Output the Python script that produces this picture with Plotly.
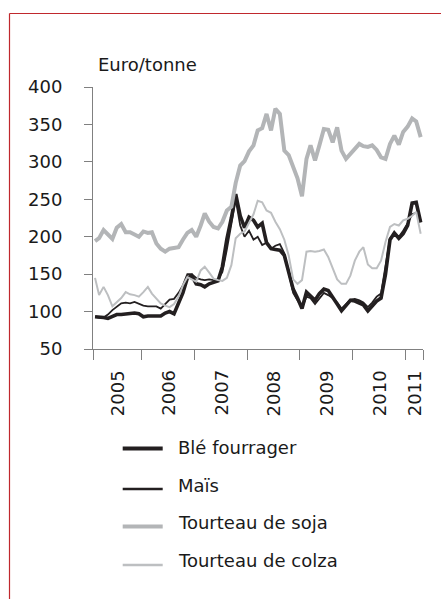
import pandas as pd
import plotly.graph_objects as go

# ---- data (monthly, Feb 2005 - Apr 2011), Euro/tonne ----
months = pd.date_range("2005-02-01", periods=75, freq="MS") + pd.Timedelta(days=14)

ble_fourrager = [93, 93, 92, 91, 94, 96, 96, 97, 98, 98, 97,
                 93, 94, 94, 93, 94, 98, 100, 97, 110, 125, 145, 148,
                 137, 136, 133, 137, 139, 141, 160, 197, 225, 257, 228, 212,
                 226, 222, 213, 218, 192, 184, 183, 182, 175, 152, 130, 118,
                 104, 126, 121, 115, 124, 130, 128, 118, 110, 101, 108, 115,
                 114, 112, 109, 101, 108, 114, 118, 150, 196, 205, 198, 204,
                 215, 245, 246, 219]

mais = [93, 92, 92, 96, 102, 106, 111, 112, 111, 113, 110,
        108, 107, 107, 107, 104, 110, 116, 117, 125, 135, 150, 150,
        145, 143, 142, 143, 142, 143, 153, 183, 215, 250, 215, 200,
        208, 196, 200, 189, 192, 184, 188, 190, 178, 150, 125, 115,
        105, 120, 118, 110, 118, 125, 122, 118, 112, 104, 110, 116,
        117, 115, 112, 106, 112, 120, 124, 160, 198, 202, 200, 208,
        218, 230, 232, 222]

tourteau_soja = [194, 198, 209, 203, 197, 212, 217, 206, 206, 203, 200,
                 207, 205, 206, 191, 184, 180, 184, 185, 186, 196, 205, 209,
                 200, 215, 231, 220, 213, 211, 220, 235, 240, 272, 295, 301,
                 314, 322, 342, 345, 364, 342, 371, 364, 315, 309, 292, 278,
                 254, 304, 322, 302, 322, 344, 343, 326, 346, 315, 304, 310,
                 318, 324, 321, 320, 322, 316, 306, 304, 324, 335, 323, 340,
                 347, 358, 354, 333]

tourteau_colza = [145, 122, 133, 122, 107, 112, 118, 126, 123, 122, 120,
                  126, 133, 124, 118, 111, 108, 106, 110, 120, 135, 146, 143,
                  140, 155, 160, 152, 144, 142, 141, 145, 162, 198, 204, 207,
                  218, 230, 248, 246, 235, 232, 220, 210, 196, 175, 143, 137,
                  142, 180, 181, 180, 181, 183, 173, 158, 143, 137, 137, 148,
                  168, 180, 186, 163, 158, 158, 168, 193, 213, 217, 215, 222,
                  224, 228, 233, 204]

series_names = ["Blé fourrager", "Maïs", "Tourteau de soja", "Tourteau de colza"]
series_values = [ble_fourrager, mais, tourteau_soja, tourteau_colza]
series_colors = ["#231f20", "#231f20", "#b3b5b7", "#bdbfc1"]
series_widths = [3.6, 1.8, 4.0, 2.0]
legend_widths = [4.0, 2.6, 3.8, 2.6]

years = [2005, 2006, 2007, 2008, 2009, 2010, 2011]
x_start = pd.Timestamp("2005-02-01")
x_end = pd.Timestamp("2011-05-01")
y_ticks = [50, 100, 150, 200, 250, 300, 350, 400]

FONT = "DejaVu Sans"

# ---- geometry helpers (pixel -> paper) ----
L, R, T, B = 93, 18, 87, 250
W, H = 441, 599
PW, PH = W - L - R, H - T - B


def px_x(px):
    return (px - L) / PW


def px_y(py):
    return (H - B - py) / PH


fig = go.Figure()
for name, vals, col, wd in zip(series_names, series_values, series_colors, series_widths):
    fig.add_trace(go.Scatter(x=months, y=vals, name=name, mode="lines",
                             line=dict(color=col, width=wd), showlegend=False))

# year boundaries for tick marks
boundaries = [x_start] + [pd.Timestamp(f"{y}-01-01") for y in years[1:]] + [x_end]

fig.update_xaxes(range=[x_start, x_end], type="date",
                 tickvals=boundaries, ticktext=[""] * len(boundaries),
                 ticks="outside", ticklen=10, tickwidth=1, tickcolor="#808080",
                 showline=True, linecolor="#808080", linewidth=1,
                 showgrid=False, zeroline=False)
fig.update_yaxes(range=[50, 400], tickvals=y_ticks,
                 ticks="outside", ticklen=8, tickwidth=1, tickcolor="#808080",
                 showline=True, linecolor="#808080", linewidth=1,
                 showgrid=False, zeroline=False, ticklabelstandoff=18,
                 tickfont=dict(family=FONT, size=18, color="#1a1a1a"))

annotations = []
# year labels, rotated, centred in each year segment
for i, yr in enumerate(years):
    a, b = boundaries[i], boundaries[i + 1]
    mid = a + (b - a) / 2
    annotations.append(dict(x=mid, xref="x", y=px_y(368), yref="paper",
                            text=str(yr), textangle=-90, showarrow=False,
                            xanchor="center", yanchor="top",
                            font=dict(family=FONT, size=18, color="#1a1a1a")))
# unit label
annotations.append(dict(x=px_x(96), xref="paper", y=px_y(64), yref="paper",
                        text="Euro/tonne", showarrow=False, xanchor="left",
                        yanchor="middle",
                        font=dict(family=FONT, size=18, color="#1a1a1a")))

shapes = []
# manual legend
leg_line_y = [448.5, 489, 526.5, 565]
leg_text_y = [447, 485, 522, 560]
for name, col, lw, ly, ty in zip(series_names, series_colors, legend_widths, leg_line_y, leg_text_y):
    shapes.append(dict(type="line", xref="paper", yref="paper",
                       x0=px_x(122.7), x1=px_x(162.7), y0=px_y(ly), y1=px_y(ly),
                       line=dict(color=col, width=lw)))
    annotations.append(dict(x=px_x(176), xref="paper", y=px_y(ty), yref="paper",
                            text=name, showarrow=False, xanchor="left",
                            yanchor="middle",
                            font=dict(family=FONT, size=18, color="#1a1a1a")))

# red frame (top and left edges; right and bottom fall outside the picture)
frame = dict(color="#c0282d", width=1.2)
shapes.append(dict(type="line", xref="paper", yref="paper",
                   x0=px_x(9.5), x1=px_x(445), y0=px_y(13.5), y1=px_y(13.5), line=frame))
shapes.append(dict(type="line", xref="paper", yref="paper",
                   x0=px_x(9.5), x1=px_x(9.5), y0=px_y(13.5), y1=px_y(605), line=frame))

fig.update_layout(width=W, height=H, margin=dict(l=L, r=R, t=T, b=B),
                  plot_bgcolor="white", paper_bgcolor="white",
                  showlegend=False, annotations=annotations, shapes=shapes,
                  font=dict(family=FONT, size=18, color="#1a1a1a"))

fig.write_html("out.html", config={"displayModeBar": False},
               post_script="document.body.style.margin='0';document.body.style.overflow='hidden';")
